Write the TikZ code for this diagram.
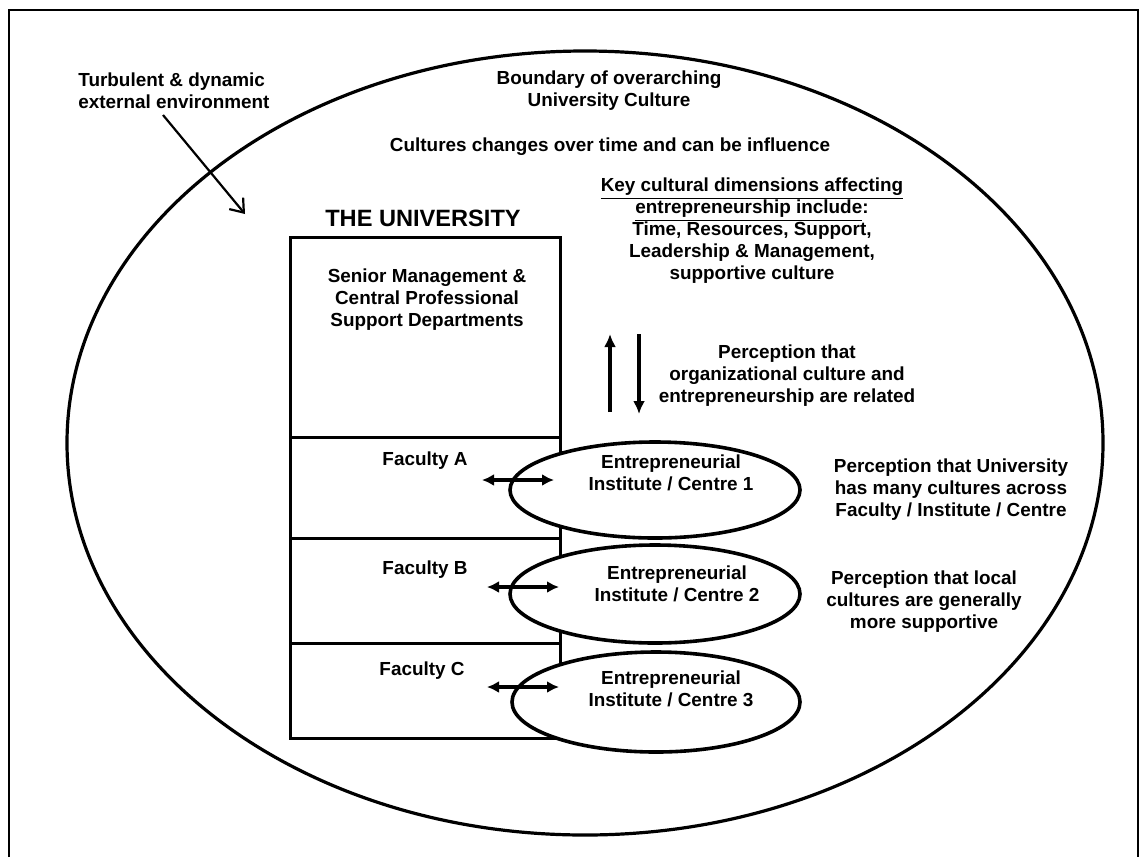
\documentclass[tikz,border=0pt]{standalone}
\usepackage{fontspec}
\setmainfont{Liberation Sans}
\usetikzlibrary{arrows.meta,shapes.geometric}
\begin{document}
\begin{tikzpicture}[x=0.5pt,y=-0.5pt,
  lbl/.style={inner sep=0pt,align=center,font=\fontsize{9.45pt}{11pt}\selectfont\bfseries},
  sect/.style={draw,line width=1.5pt,inner sep=0pt},
  inst/.style={draw,ellipse,line width=1.8pt,fill=white,inner sep=0pt,minimum width=145pt,minimum height=48pt},
  twoway/.style={line width=1.6pt,{Latex[length=6pt,width=6pt]}-{Latex[length=6pt,width=6pt]}},
  oneway/.style={line width=1.6pt,-{Latex[length=6.5pt,width=6pt]}}]
\useasboundingbox (0,0) rectangle (1144,857);
% outer frame, open at the bottom edge
\draw[line width=1.1pt] (9,857) -- (9,10) -- (1138,10) -- (1138,857);
% boundary of the overarching culture
\node[draw,ellipse,line width=1.6pt,inner sep=0pt,minimum width=518pt,minimum height=392pt] (boundary) at (585,443) {};

\node[lbl,align=left,anchor=west] (env) at (78,90.5) {Turbulent \& dynamic\\external environment};
\coordinate (envtip) at (245,214);
\coordinate (envtail) at (163,115);
\draw[line width=1.1pt,-{Straight Barb[length=6pt,width=9pt]}] (envtail) -- (envtip);

\node[lbl] (bound) at (609,90.5) {Boundary of overarching\\University Culture};
\node[lbl] (change) at (610,147) {Cultures changes over time and can be influence};
\node[lbl] (keydim) at (752,230.5) {\underline{Key cultural dimensions affecting}\\\underline{entrepreneurship include}:\\Time, Resources, Support,\\Leadership \& Management,\\supportive culture};

% the university and its sections
\node[lbl,font=\fontsize{11.8pt}{13pt}\selectfont\bfseries] (uni) at (423,218) {THE UNIVERSITY};
\draw[sect] (290,237) rectangle (560,437);
\draw[sect] (290,437) rectangle (560,538);
\draw[sect] (290,538) rectangle (560,643);
\draw[sect] (290,643) rectangle (560,738);
\node[lbl] (senior) at (427,300) {Senior Management \&\\Central Professional\\Support Departments};
\node[lbl] (facA) at (425,461) {Faculty A};
\node[lbl] (facB) at (425,570) {Faculty B};
\node[lbl] (facC) at (422,671) {Faculty C};

% institutes / centres
\node[inst] (e1) at (655,490) {};
\node[inst,minimum height=49pt] (e2) at (655,594) {};
\node[inst,minimum width=144pt,minimum height=50pt] (e3) at (656,702) {};
\node[lbl] (t1) at (671,472.5) {Entrepreneurial\\Institute / Centre 1};
\node[lbl] (t2) at (677,584) {Entrepreneurial\\Institute / Centre 2};
\node[lbl] (t3) at (671,689) {Entrepreneurial\\Institute / Centre 3};

% faculty <-> institute links
\coordinate (a1) at (482,480); \coordinate (b1) at (554,480);
\coordinate (a2) at (487,587); \coordinate (b2) at (559,587);
\coordinate (a3) at (487,687); \coordinate (b3) at (559,687);
\draw[twoway] (a1) -- (b1);
\draw[twoway] (a2) -- (b2);
\draw[twoway] (a3) -- (b3);

% culture <-> entrepreneurship
\coordinate (upb) at (610,412); \coordinate (upt) at (610,334);
\coordinate (dnt) at (639,334); \coordinate (dnb) at (639,414);
\draw[oneway] (upb) -- (upt);
\draw[oneway] (dnt) -- (dnb);
\node[lbl] (rel) at (787,376) {Perception that\\organizational culture and\\entrepreneurship are related};

\node[lbl] (many) at (951,490) {Perception that University\\has many cultures across\\Faculty / Institute / Centre};
\node[lbl] (local) at (924,602) {Perception that local\\cultures are generally\\more supportive};
\end{tikzpicture}
\end{document}
